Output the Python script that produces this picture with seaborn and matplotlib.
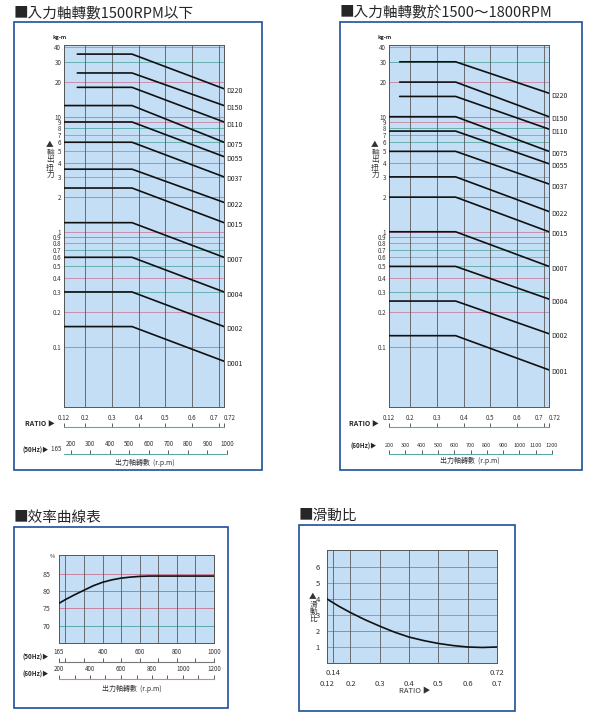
import numpy as np
import pandas as pd
import matplotlib
matplotlib.use('Agg')
import matplotlib.pyplot as plt
import seaborn as sns
from matplotlib.patches import Rectangle
from matplotlib.ticker import NullLocator

sns.set_theme(style='white')
plt.rcParams['font.family'] = ['Noto Sans CJK TC', 'DejaVu Sans']

W, H = 594, 722
BG = '#c3def5'
PINK = '#c9839f'
TEAL = '#5aa9a6'
GRIDV = '#5a5a5a'
BOX = '#1d4f9c'

# ---------------- data ----------------
models = ['D220', 'D150', 'D110', 'D075', 'D055', 'D037', 'D022', 'D015', 'D007', 'D004', 'D002', 'D001']
start_50 = [0.17, 0.17, 0.17, 0.12, 0.12, 0.12, 0.12, 0.12, 0.12, 0.12, 0.12, 0.12]
flat_50 = [35, 24, 18, 12.5, 9, 6, 3.5, 2.4, 1.2, 0.6, 0.3, 0.15]
end_50 = [17.5, 12.5, 9, 6, 4.5, 3.0, 1.8, 1.2, 0.6, 0.3, 0.15, 0.075]
bend_50 = 0.375
start_60 = [0.16, 0.16, 0.16, 0.12, 0.12, 0.12, 0.12, 0.12, 0.12, 0.12, 0.12, 0.12]
flat_60 = [30, 20, 15, 10, 7.5, 5, 3, 2, 1, 0.5, 0.25, 0.125]
end_60 = [16, 10, 7.8, 5, 3.9, 2.6, 1.5, 1.0, 0.5, 0.26, 0.13, 0.063]
bend_60 = 0.37
ratio_end = 0.72

torque_ticks = [0.1, 0.2, 0.3, 0.4, 0.5, 0.6, 0.7, 0.8, 0.9, 1, 2, 3, 4, 5, 6, 7, 8, 9, 10, 20, 30, 40]
torque_labels = ['0.1', '0.2', '0.3', '0.4', '0.5', '0.6', '0.7', '0.8', '0.9', '1', '2', '3', '4', '5', '6', '7', '8', '9', '10', '20', '30', '40']
ratio_ticks = [0.12, 0.2, 0.3, 0.4, 0.5, 0.6, 0.7, 0.72]
ratio_labels = ['0.12', '0.2', '0.3', '0.4', '0.5', '0.6', '0.7', '0.72']
rpm50_ticks = [165, 200, 300, 400, 500, 600, 700, 800, 900, 1000]
rpm60_ticks = [200, 300, 400, 500, 600, 700, 800, 900, 1000, 1100, 1200]

eff_rpm = [165, 200, 250, 300, 350, 400, 450, 500, 550, 600, 650, 700, 800, 900, 1000]
eff_val = [76.5, 77.6, 79.0, 80.3, 81.6, 82.6, 83.3, 83.8, 84.1, 84.3, 84.4, 84.4, 84.4, 84.4, 84.4]
eff_ticks = [70, 75, 80, 85]

slip_ratio = [0.12, 0.16, 0.2, 0.25, 0.3, 0.35, 0.4, 0.45, 0.5, 0.55, 0.6, 0.65, 0.7]
slip_val = [4.0, 3.55, 3.15, 2.7, 2.3, 1.93, 1.62, 1.4, 1.22, 1.09, 1.0, 0.97, 1.0]
slip_ticks = [1, 2, 3, 4, 5, 6]
slip_xticks = [0.12, 0.2, 0.3, 0.4, 0.5, 0.6, 0.7]

fig = plt.figure(figsize=(W / 100, H / 100), dpi=100)
fig.patch.set_facecolor('white')


def rect(x0, y0, x1, y1):
    return [x0 / W, 1 - y1 / H, (x1 - x0) / W, (y1 - y0) / H]


def box(x0, y0, x1, y1):
    fig.patches.append(Rectangle((x0 / W, 1 - y1 / H), (x1 - x0) / W, (y1 - y0) / H,
                                 transform=fig.transFigure, fill=False, ec=BOX, lw=1.2))


def ftext(x, y, s, **kw):
    fig.text(x / W, 1 - y / H, s, **kw)


def vtext(x, y0, s, step=7.5, fs=5.5):
    for i, ch in enumerate(s):
        ftext(x, y0 + i * step, ch, fontsize=fs, ha='center', va='center', color='#333333')


def style(ax):
    ax.set_facecolor(BG)
    for s in ax.spines.values():
        s.set_color('#555555')
        s.set_linewidth(0.7)
    ax.set_xlabel('')
    ax.set_ylabel('')


def scale_axis(x0, x1, y, lim, ticks, labels, color, minor=None, fs=4.5):
    a = fig.add_axes(rect(x0, y - 0.5, x1, y + 0.5))
    a.set_xlim(lim)
    a.set_ylim(0, 1)
    a.patch.set_alpha(0)
    for s in ['top', 'left', 'right']:
        a.spines[s].set_visible(False)
    a.spines['bottom'].set_color(color)
    a.spines['bottom'].set_linewidth(0.8)
    a.set_yticks([])
    a.set_xticks(ticks)
    a.set_xticklabels(labels, fontsize=fs, color='#333333')
    if minor is not None:
        a.set_xticks(minor, minor=True)
    a.tick_params(axis='x', which='both', direction='in', length=3, width=0.6, top=False, bottom=True,
                  labeltop=True, labelbottom=False, pad=3, color='#444444')
    return a


def ratio_axis(x0, x1, y):
    a = scale_axis(x0, x1, y, (0.12, 0.72), ratio_ticks, ratio_labels, TEAL)
    labs = a.get_xticklabels()
    labs[-2].set_ha('right')
    labs[-1].set_ha('left')
    return a


def torque(rc, starts, flats, ends, bend):
    ax = fig.add_axes(rc)
    rows = []
    for m, s, f, e in zip(models, starts, flats, ends):
        rows += [(m, s, f), (m, bend, f), (m, ratio_end, e)]
    df = pd.DataFrame(rows, columns=['model', 'ratio', 'torque'])
    for i, v in enumerate(torque_ticks):
        ax.axhline(v, color=PINK if i % 2 else TEAL, lw=0.6, zorder=0)
    for v in [0.2, 0.3, 0.4, 0.5, 0.6, 0.7]:
        ax.axvline(v, color=GRIDV, lw=0.6, zorder=0)
    sns.lineplot(data=df, x='ratio', y='torque', hue='model', palette=['#111111'] * len(models),
                 legend=False, ax=ax, lw=1.2, sort=False, zorder=3)
    ax.set_yscale('log')
    ax.set_ylim(0.03, 42)
    ax.set_xlim(0.12, ratio_end)
    ax.yaxis.set_minor_locator(NullLocator())
    ax.set_yticks(torque_ticks)
    ax.set_yticklabels(torque_labels)
    ax.set_xticks([])
    ax.tick_params(axis='y', labelsize=4.5, length=0, pad=2, labelcolor='#333333')
    style(ax)
    for m, e in zip(models, ends):
        ax.text(ratio_end + 0.007, e * 0.95, m, fontsize=5, va='center', ha='left', clip_on=False, color='#222222')
    return ax


# ---------------- top-left ----------------
box(14, 22, 262, 470)
ftext(14, 13, '■入力軸轉數1500RPM以下', fontsize=10.5, va='center', ha='left')
torque(rect(64, 45, 224, 407), start_50, flat_50, end_50, bend_50)
ftext(60, 37, 'kg-m', fontsize=4, ha='center', va='center', weight='bold')
vtext(50, 145, '▲輸出扭力')
ratio_axis(64, 224, 427)
ftext(40, 424, 'RATIO ▶', fontsize=5, ha='center', va='center', weight='bold')
a50 = scale_axis(64, 227, 453, (165, 1000), rpm50_ticks[1:], [str(v) for v in rpm50_ticks[1:]], TEAL)
a50.text(165, 1, '165  ', fontsize=4.5, ha='right', va='bottom', color='#333333')
ftext(36, 450, '(50Hz)▶', fontsize=4.5, ha='center', va='center', weight='bold')
ftext(145, 463, '出力軸轉數  (r.p.m)', fontsize=5, ha='center', va='center', color='#333333')

# ---------------- top-right ----------------
box(340, 22, 582, 470)
ftext(340, 13, '■入力軸轉數於1500～1800RPM', fontsize=10.5, va='center', ha='left')
torque(rect(389, 45, 549, 407), start_60, flat_60, end_60, bend_60)
ftext(385, 37, 'kg-m', fontsize=4, ha='center', va='center', weight='bold')
vtext(375, 145, '▲輸出扭力')
ratio_axis(389, 549, 427)
ftext(364, 424, 'RATIO ▶', fontsize=5, ha='center', va='center', weight='bold')
scale_axis(389, 552, 453, (200, 1200), rpm60_ticks, [str(v) for v in rpm60_ticks], TEAL, fs=4.0)
ftext(364, 446, '(60Hz)▶', fontsize=4.5, ha='center', va='center', weight='bold')
ftext(470, 461, '出力軸轉數  (r.p.m)', fontsize=5, ha='center', va='center', color='#333333')

# ---------------- bottom-left: efficiency ----------------
box(14, 527, 228, 708)
ftext(14, 518, '■效率曲線表', fontsize=10.5, va='center', ha='left')
ax = fig.add_axes(rect(59, 555, 214, 643))
for i, v in enumerate(eff_ticks):
    ax.axhline(v, color=TEAL if i % 2 == 0 else PINK, lw=0.7, zorder=0)
for v in [200, 300, 400, 500, 600, 700, 800, 900]:
    ax.axvline(v, color=GRIDV, lw=0.6, zorder=0)
sns.lineplot(x=eff_rpm, y=eff_val, ax=ax, color='#111111', lw=1.2, zorder=3)
ax.set_xlim(165, 1000)
ax.set_ylim(65, 90.5)
ax.set_yticks(eff_ticks)
ax.set_yticklabels([str(v) for v in eff_ticks])
ax.set_xticks([])
ax.tick_params(axis='y', labelsize=5, length=0, pad=6, labelcolor='#333333')
style(ax)
ftext(52, 556, '%', fontsize=4, ha='center', va='center')
scale_axis(59, 214, 661, (165, 1000), [165, 400, 600, 800, 1000], ['165', '400', '600', '800', '1000'], '#777777',
           minor=[200, 300, 500, 700, 900], fs=4.5)
ftext(36, 657, '(50Hz)▶', fontsize=4.5, ha='center', va='center', weight='bold')
scale_axis(59, 214, 678, (200, 1200), [200, 400, 600, 800, 1000, 1200],
           ['200', '400', '600', '800', '1000', '1200'], PINK, minor=[300, 500, 700, 900, 1100], fs=4.5)
ftext(36, 674, '(60Hz)▶', fontsize=4.5, ha='center', va='center', weight='bold')
ftext(132, 689, '出力軸轉數  (r.p.m)', fontsize=5, ha='center', va='center', color='#333333')

# ---------------- bottom-right: slip ----------------
box(299, 525, 515, 711)
ftext(299, 516, '■滑動比', fontsize=10.5, va='center', ha='left')
ax = fig.add_axes(rect(327, 550, 497, 663))
for i, v in enumerate([0] + slip_ticks):
    ax.axhline(v, color=TEAL if i % 2 == 0 else PINK, lw=0.7, zorder=0)
for v in [0.14, 0.2, 0.3, 0.4, 0.5, 0.6]:
    ax.axvline(v, color=GRIDV, lw=0.6, zorder=0)
sns.lineplot(x=slip_ratio, y=slip_val, ax=ax, color='#111111', lw=1.2, zorder=3)
ax.set_xlim(0.12, 0.7)
ax.set_ylim(0, 7.06)
ax.set_yticks(slip_ticks)
ax.set_yticklabels([str(v) for v in slip_ticks])
ax.set_xticks(slip_xticks)
ax.set_xticklabels(['0.12', '0.2', '0.3', '0.4', '0.5', '0.6', '0.7'])
ax.tick_params(axis='y', labelsize=5.5, length=0, pad=5, labelcolor='#333333')
ax.tick_params(axis='x', labelsize=5.5, length=0, pad=12, labelcolor='#333333')
style(ax)
ax.text(0.14, -0.35, '0.14', fontsize=5.5, ha='center', va='top', color='#333333')
ax.text(0.7, -0.35, '0.72', fontsize=5.5, ha='center', va='top', color='#333333')
ftext(415, 691, 'RATIO ▶', fontsize=5.5, ha='center', va='center', color='#333333')
vtext(313, 597, '▲滑動比', step=7.5)

fig.savefig('out.png', dpi=100, facecolor='white')
